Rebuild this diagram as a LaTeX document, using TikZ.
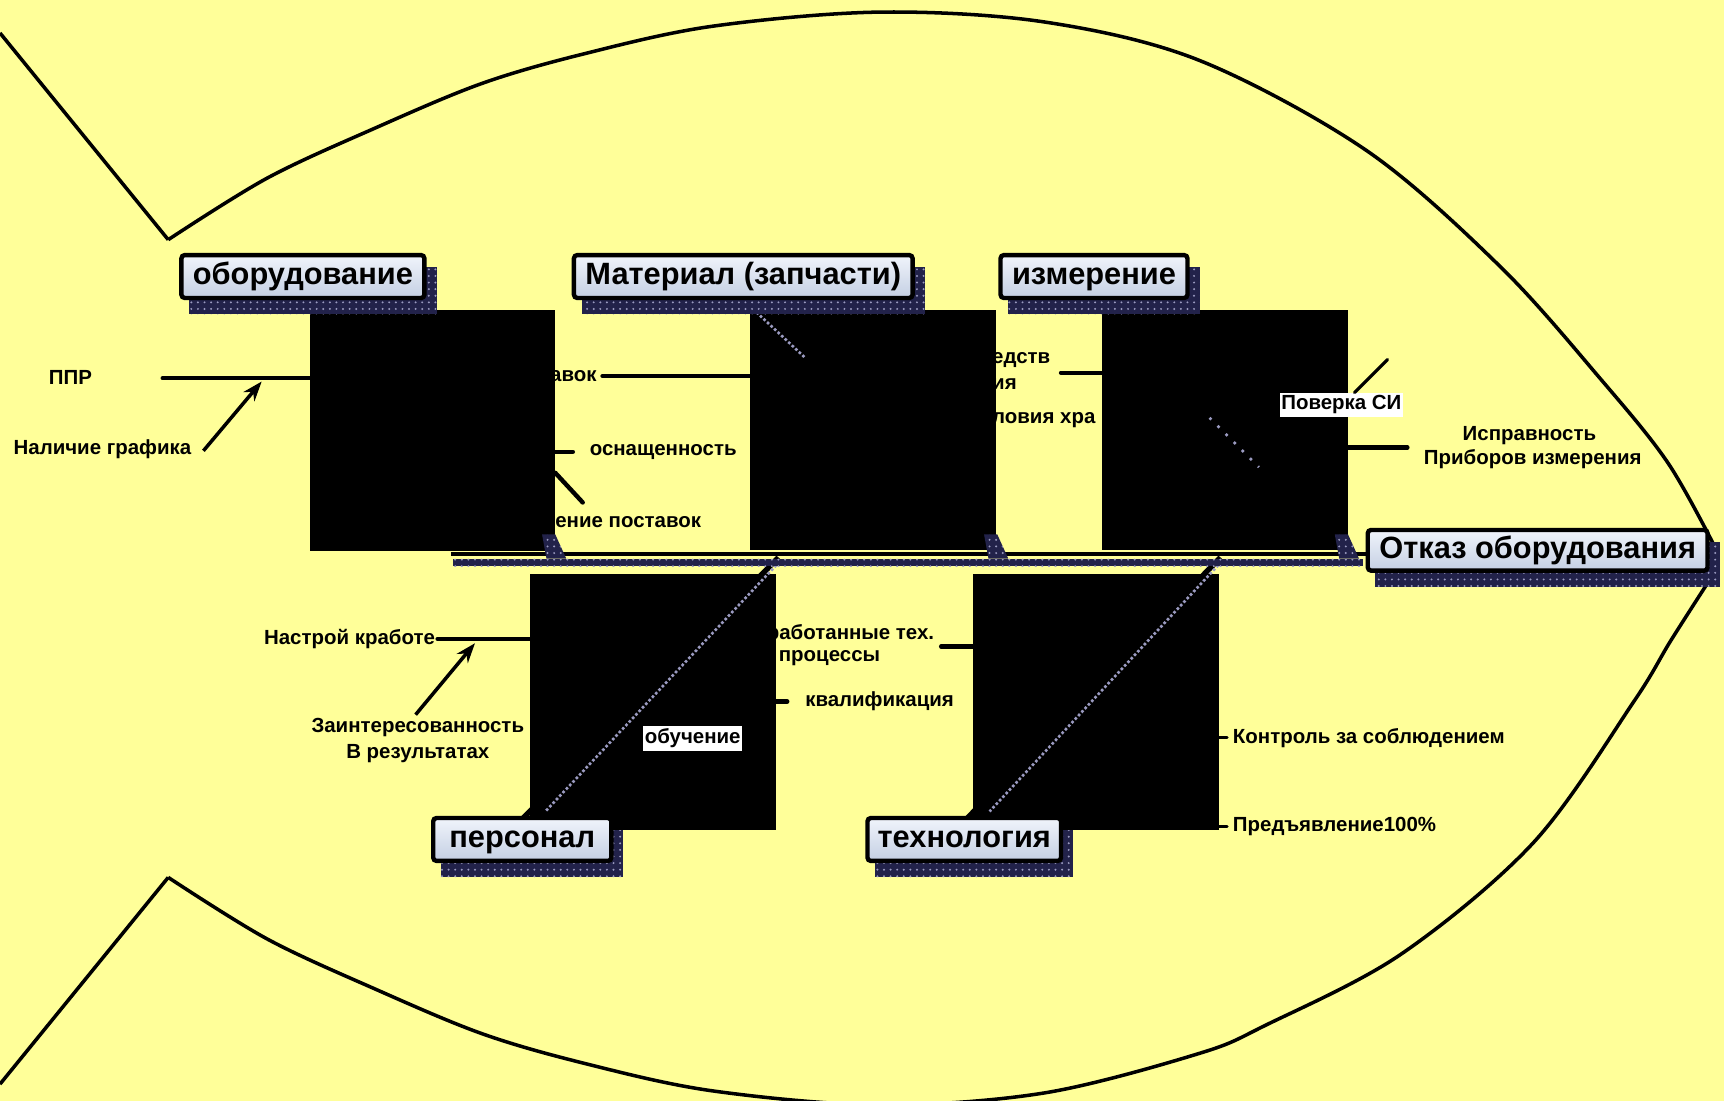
\documentclass[tikz,border=0pt]{standalone}
\usepackage{fontspec}
\setmainfont{Liberation Sans}
\usetikzlibrary{patterns,arrows.meta}
\definecolor{bg}{HTML}{FFFF99}
\definecolor{shc}{HTML}{22224A}
\definecolor{shdot}{HTML}{9A9AC0}
\definecolor{boxtop}{HTML}{F0F4FB}
\definecolor{boxbot}{HTML}{C4CFE3}
\tikzset{
 lbl/.style={font=\fontsize{9.3}{11}\selectfont\bfseries, inner sep=0pt},
 ttl/.style={draw=black, line width=2pt, top color=boxtop, bottom color=boxbot, inner sep=0pt,
   font=\fontsize{14}{16}\selectfont\bfseries, rounded corners=1.5pt, text height=10pt, text depth=2.5pt},
 rib/.style={line width=2pt, line cap=round},
 thinrib/.style={line width=1.5pt, line cap=round},
 arr/.style={line width=1.6pt, -{Stealth[length=9pt,width=6.5pt]}},
 blk/.style={fill=black},
 dotl/.style={line width=1.2pt, draw=shdot, densely dotted},
 outline/.style={line width=1.6pt, line join=round},
 bone/.style={line width=2.5pt},
 shband/.style={fill=shc},
 shpat/.style={pattern=dots, pattern color=shdot},
}
\newcommand\tbx[6]{%
 \fill[shband] ({#2+9},{#3+13}) rectangle ({#4+9},{#5+13});
 \fill[shpat] ({#2+9},{#3+13}) rectangle ({#4+9},{#5+13});
 \node[ttl, minimum width={(#4-#2-4)*0.5pt}, minimum height={(#5-#3-4)*0.5pt}]
   (#1) at ({(#2+#4)/2},{(#3+#5)/2}) {#6};
}
\begin{document}
\begin{tikzpicture}[x=0.5pt,y=-0.5pt]
\fill[bg] (0,0) rectangle (1568,1001);
\useasboundingbox (0,0) rectangle (1568,1001);

% ---------- fish outline
\coordinate (tailT) at (0,30);
\coordinate (tailB) at (0,986);
\coordinate (vT) at (153,218);
\coordinate (vB) at (153,798);
\draw[outline] (tailT) -- (vT);
\draw[outline] (vB) -- (tailB);
\draw[outline] plot[smooth,tension=0.55] coordinates {(153,218) (243,162) (340,117) (438,76) (531,49) (647,24) (800,11) (950,20) (1091,55) (1243,137) (1365,243) (1456,345) (1517,421) (1561,500)};
\draw[outline] plot[smooth,tension=0.55] coordinates {(1561,518) (1520,582) (1486,638) (1395,766) (1274,868) (1152,932) (1091,958) (950,994) (800,1005) (647,992) (531,967) (438,940) (340,899) (243,854) (153,798)};

% ---------- labels
\node[lbl] (ppr) at (64,343) {ППР};
\node[lbl, anchor=west] (nal) at (12,409) {Наличие графика};
\node[lbl, anchor=east] (avok) at (543,342) {авок};
\node[lbl, anchor=west] (osn) at (536,411) {оснащенность};
\node[lbl, anchor=east] (post) at (638,475) {нение поставок};
\node[lbl, anchor=west] (sred) at (902,327) {едств};
\node[lbl, anchor=west] (iya) at (902,349) {ия};
\node[lbl, anchor=west] (usl) at (902,382) {ловия хра};
\node[lbl] (ispr) at (1391,396) {Исправность};
\node[lbl] (prib) at (1394,418) {Приборов измерения};
\node[lbl, anchor=east] (nast) at (396,581) {Настрой кработе};
\node[lbl] (zain) at (380,662) {Заинтересованность};
\node[lbl] (vrez) at (380,685) {В результатах};
\node[lbl, anchor=east] (otr) at (850,577) {работанные тех.};
\node[lbl, anchor=west] (proc) at (708,599) {процессы};
\node[lbl, anchor=west] (kval) at (732,638) {квалификация};
\node[lbl, anchor=west] (kontr) at (1121,671) {Контроль за соблюдением};
\node[lbl, anchor=west] (pred) at (1121,752) {Предъявление100\%};

% ---------- ribs
\coordinate (pprA) at (148,344); \coordinate (pprB) at (282,344);
\coordinate (nalA) at (185,410); \coordinate (nalB) at (238,347);
\coordinate (avA) at (548,342);  \coordinate (avB) at (682,342);
\coordinate (osA) at (505,411);  \coordinate (osB) at (521,411);
\coordinate (poA) at (505,430);  \coordinate (poB) at (530,457);
\coordinate (srA) at (965,339);  \coordinate (srB) at (1002,339);
\coordinate (isA) at (1226,407); \coordinate (isB) at (1280,407);
\coordinate (naA) at (398,581);  \coordinate (naB) at (482,581);
\coordinate (zaA) at (378,650);  \coordinate (zaB) at (432,585);
\coordinate (prA) at (856,588);  \coordinate (prB) at (885,588);
\coordinate (kvA) at (706,638);  \coordinate (kvB) at (716,638);
\coordinate (koA) at (1109,671); \coordinate (koB) at (1116,671);
\coordinate (peA) at (1109,752); \coordinate (peB) at (1116,752);
\draw[rib] (pprA) -- (pprB);
\draw[arr] (nalA) -- (nalB);
\draw[rib] (avA) -- (avB);
\draw[rib] (osA) -- (osB);
\draw[rib] (poA) -- (poB);
\draw[rib] (srA) -- (srB);
\draw[rib] (isA) -- (isB);
\draw[rib] (naA) -- (naB);
\draw[arr] (zaA) -- (zaB);
\draw[rib] (prA) -- (prB);
\draw[rib] (kvA) -- (kvB);
\draw[thinrib] (koA) -- (koB);
\draw[thinrib] (peA) -- (peB);

% ---------- lower bones (black)
\coordinate (b4s) at (708,507); \coordinate (b4e) at (474,746);
\coordinate (b5s) at (1110,507); \coordinate (b5e) at (878,746);
\draw[bone] (b4s) -- (b4e);
\draw[bone] (b5s) -- (b5e);

% ---------- black boxes
\fill[blk] (282,282) rectangle (505,501);
\fill[blk] (682,282) rectangle (906,500);
\fill[blk] (1002,282) rectangle (1226,500);
\fill[blk] (482,522) rectangle (706,755);
\fill[blk] (885,522) rectangle (1109,755);

% ---------- dotted shadow traces on the black boxes
\coordinate (d1a) at (688,284); \coordinate (d1b) at (733,326);
\coordinate (d2a) at (1100,380); \coordinate (d2b) at (1145,425);
\coordinate (d3a) at (706,514); \coordinate (d3b) at (496,738);
\coordinate (d4a) at (1108,514); \coordinate (d4b) at (900,738);
\draw[dotl] (d1a) -- (d1b);
\draw[dotl, loosely dotted] (d2a) -- (d2b);
\draw[dotl] (d3a) -- (d3b);
\draw[dotl] (d4a) -- (d4b);

% ---------- spine
\coordinate (spL) at (410,504);
\coordinate (spR) at (1242,504);
\fill[shband] (412,508) rectangle (1240,515);
\fill[shpat] (412,508) rectangle (1240,515);
\draw[line width=2pt] (spL) -- (spR);
\foreach \x in {493,895,1214}{
  \fill[shband] (\x,486) -- ({\x+12},486) -- ({\x+22},508) -- ({\x+4},508) -- cycle;
  \fill[shpat] (\x,486) -- ({\x+12},486) -- ({\x+22},508) -- ({\x+4},508) -- cycle;
}

% ---------- title boxes
\tbx{obor}{163}{230}{388}{273}{оборудование}
\tbx{mat}{520}{230}{832}{273}{Материал (запчасти)}
\tbx{izm}{908}{230}{1082}{273}{измерение}
\tbx{otk}{1242}{480}{1555}{521}{Отказ оборудования}
\tbx{pers}{392}{742}{558}{785}{персонал}
\tbx{tech}{787}{742}{967}{785}{технология}

% ---------- white labels on black
\node[lbl, fill=white, minimum width=56pt, minimum height=11pt] (pov) at (1220,368) {Поверка СИ};
\node[lbl, fill=white, minimum width=45pt, minimum height=11.5pt] (obuch) at (630,671.5) {обучение};
\coordinate (povA) at (1232,357);
\coordinate (povB) at (1262,327);
\draw[thinrib] (povA) -- (povB);
\end{tikzpicture}
\end{document}
